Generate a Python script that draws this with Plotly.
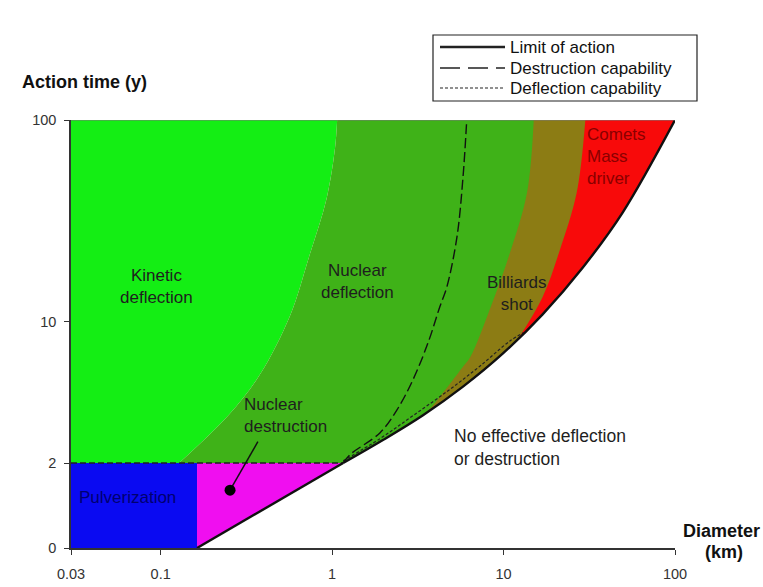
import numpy as np
import plotly.graph_objects as go

# ---------------- data (diameter in km, action time in years) ----------------
limit_x = [0.163, 1.16, 1.98, 3.39, 5.80, 9.92, 16.9, 29.0, 49.6, 100]
limit_y = [0.0, 2.0, 2.60, 3.45, 4.78, 6.98, 10.9, 18.6, 34.9, 100]

kinetic_x = [0.128, 0.25, 0.38, 0.57, 0.74, 0.93, 1.04, 1.07]
kinetic_y = [2.0, 3.47, 5.5, 10.8, 21.5, 41, 72.6, 100]

billiards_x = [3.57, 3.87, 5.8, 6.4, 8.3, 10.9, 13.7, 15.0]
billiards_y = [3.57, 3.85, 6.0, 6.7, 11.5, 22, 43.6, 100]

comets_x = [12.0, 16.9, 21.3, 26.7, 30.0]
comets_y = [8.1, 13.3, 22.7, 43.6, 100]

pulver_x = [0.03, 0.163]
pulver_y = [0.0, 2.0]

destr_x = [1.16, 1.27, 1.90, 2.39, 2.96, 3.65, 4.25, 4.67, 5.35, 5.8, 6.1]
destr_y = [2.0, 2.2, 2.82, 3.67, 5.16, 8.0, 11.9, 14.9, 26.4, 52, 100]

defl_x = [1.16, 1.90, 2.96, 4.86, 7.3, 10.9, 13.1]
defl_y = [2.05, 2.64, 3.43, 4.63, 6.05, 8.05, 8.85]

threshold_y = 2.0
x_min, x_max = 0.03, 100
y_top = 100

pointer_x = [0.369, 0.254]
pointer_y = [2.55, 1.36]

xtick_vals = [0.03, 0.1, 1, 10, 100]
xtick_text = ["0.03", "0.1", "1", "10", "100"]
ytick_vals = [0, 2, 10, 100]
ytick_text = ["0", "2", "10", "100"]

# ---------------- y scale: linear below 2 years, log above ----------------
K = 0.2104


def ty(v):
    v = np.asarray(v, dtype=float)
    return np.where(v >= 2, np.log10(np.maximum(v, 1e-9)), np.log10(2) - (2 - v) * K)


def lx(v):
    return float(np.log10(v))


limit_x_a = np.array(limit_x)
limit_y_a = np.array(limit_y)
up = limit_y_a >= threshold_y
limit_up_x = list(limit_x_a[up])
limit_up_y = list(limit_y_a[up])

fig = go.Figure()


def band(ax, ay, ashape, bx, by, bshape, color):
    fig.add_trace(go.Scatter(x=list(ax), y=list(ty(ay)), mode="lines",
                             line=dict(width=0, color=color, shape=ashape, smoothing=1),
                             hoverinfo="skip", showlegend=False))
    fig.add_trace(go.Scatter(x=list(bx), y=list(ty(by)), mode="lines", fill="tonexty",
                             fillcolor=color,
                             line=dict(width=0, color=color, shape=bshape, smoothing=1),
                             hoverinfo="skip", showlegend=False))


def poly(xs, ys, color):
    fig.add_trace(go.Scatter(x=list(xs), y=list(ty(ys)), mode="lines", fill="toself",
                             fillcolor=color, line=dict(width=0, color=color),
                             hoverinfo="skip", showlegend=False))


# kinetic deflection (bright green)
band([x_min, x_min], [threshold_y, y_top], "linear", kinetic_x, kinetic_y, "spline", "#14ee14")

# nuclear deflection (dark green)
band(kinetic_x, kinetic_y, "spline", limit_up_x, limit_up_y, "spline", "#3fb218")

# billiards shot (olive/brown)
sel = limit_x_a > billiards_x[0]
band(billiards_x, billiards_y, "spline",
     [billiards_x[0]] + list(limit_x_a[sel]), [billiards_y[0]] + list(limit_y_a[sel]), "spline",
     "#8c7c14")

# comets / mass driver (red)
sel = limit_x_a > comets_x[0]
band(comets_x, comets_y, "spline",
     [comets_x[0]] + list(limit_x_a[sel]), [comets_y[0]] + list(limit_y_a[sel]), "spline",
     "#f80a0a")

# pulverization (blue)
poly([pulver_x[0], pulver_x[1], pulver_x[1], pulver_x[0]],
     [pulver_y[0], pulver_y[0], pulver_y[1], pulver_y[1]], "#0a0af2")

# nuclear destruction (magenta)
poly([limit_x[0], limit_x[1], pulver_x[1]],
     [limit_y[0], limit_y[1], threshold_y], "#f00ef0")

# lines
fig.add_trace(go.Scatter(x=[x_min, limit_x[1]], y=list(ty([threshold_y, threshold_y])), mode="lines",
                         line=dict(color="#222", width=1.5, dash="6px,3px"), hoverinfo="skip"))
fig.add_trace(go.Scatter(x=defl_x, y=list(ty(defl_y)), mode="lines",
                         line=dict(color="#222", width=1.2, dash="3px,2px", shape="spline"),
                         hoverinfo="skip"))
fig.add_trace(go.Scatter(x=destr_x, y=list(ty(destr_y)), mode="lines",
                         line=dict(color="#111", width=1.4, dash="10px,4px", shape="spline"),
                         hoverinfo="skip"))
fig.add_trace(go.Scatter(x=limit_x[:2], y=list(ty(limit_y[:2])), mode="lines",
                         line=dict(color="#111", width=2.4), hoverinfo="skip"))
fig.add_trace(go.Scatter(x=limit_up_x, y=list(ty(limit_up_y)), mode="lines",
                         line=dict(color="#111", width=2.4, shape="spline", smoothing=1),
                         hoverinfo="skip"))
# top edge
fig.add_trace(go.Scatter(x=[x_min, x_max], y=list(ty([y_top, y_top])), mode="lines",
                         line=dict(color="#777", width=1), hoverinfo="skip"))
# pointer
fig.add_trace(go.Scatter(x=pointer_x, y=list(ty(pointer_y)), mode="lines",
                         line=dict(color="#111", width=1.5), hoverinfo="skip"))
fig.add_trace(go.Scatter(x=[pointer_x[1]], y=list(ty([pointer_y[1]])), mode="markers",
                         marker=dict(color="#000", size=11), hoverinfo="skip"))

FONT = "Liberation Sans, Arial, sans-serif"
lab = dict(family=FONT, size=17, color="#1e1e1e")

annotations = [
    dict(x=lx(0.095), y=float(ty(14.9)), text="Kinetic<br>deflection", font=lab, align="center"),
    dict(x=lx(1.40), y=float(ty(15.8)), text="Nuclear<br>deflection", font=lab, align="center"),
    dict(x=lx(0.30), y=float(ty(3.43)), text="Nuclear<br>destruction", font=lab, align="left",
         xanchor="left"),
    dict(x=lx(12.0), y=float(ty(13.9)), text="Billiards<br>shot", font=lab, align="center"),
    dict(x=lx(29.8), y=float(ty(65.6)), text="Comets<br>Mass<br>driver",
         font=dict(family=FONT, size=17, color="#8a0000"), align="left", xanchor="left"),
    dict(x=lx(0.064), y=float(ty(1.18)), text="Pulverization",
         font=dict(family=FONT, size=17, color="#000070"), align="center"),
    dict(x=lx(5.0), y=float(ty(2.40)), text="No effective deflection<br>or destruction",
         font=dict(family=FONT, size=17.5, color="#1e1e1e"), align="left", xanchor="left"),
]
for a in annotations:
    a.update(xref="x", yref="y", showarrow=False, yanchor="middle")

# pixel -> paper helpers for titles / legend box
L, R, T, B = 71, 675, 120, 548


def pxx(p):
    return (p - L) / (R - L)


def pxy(p):
    return (B - p) / (B - T)


bold = dict(family=FONT, size=18, color="#111")
annotations += [
    dict(x=pxx(20), y=pxy(82), text="<b>Action time (y)</b>", font=bold, xanchor="left"),
    dict(x=pxx(721), y=pxy(531), text="<b>Diameter</b>", font=bold, xanchor="center"),
    dict(x=pxx(724), y=pxy(552), text="<b>(km)</b>", font=bold, xanchor="center"),
]

legend_items = [("Limit of action", 47, dict(width=2.6, dash="solid")),
                ("Destruction capability", 68, dict(width=1.5, dash="20px,8px")),
                ("Deflection capability", 88, dict(width=1.2, dash="3px,2px"))]
shapes = [dict(type="rect", xref="paper", yref="paper", x0=pxx(433), x1=pxx(697),
               y0=pxy(101), y1=pxy(35), line=dict(color="#222", width=1.2), fillcolor="white")]
for text, py, ls in legend_items:
    shapes.append(dict(type="line", xref="paper", yref="paper", x0=pxx(440), x1=pxx(505),
                       y0=pxy(py), y1=pxy(py), line=dict(color="#222", **ls)))
    annotations.append(dict(x=pxx(508), y=pxy(py), text=text, xanchor="left",
                            font=dict(family=FONT, size=17, color="#111")))

for a in annotations:
    a.setdefault("xref", "paper")
    a.setdefault("yref", "paper")
    a.setdefault("showarrow", False)
    a.setdefault("yanchor", "middle")

fig.update_layout(
    width=763, height=587,
    margin=dict(l=L, r=763 - R, t=T, b=587 - B, autoexpand=False),
    paper_bgcolor="white", plot_bgcolor="white",
    showlegend=False,
    font=dict(family=FONT, size=14, color="#333"),
    annotations=annotations,
    shapes=shapes,
    xaxis=dict(type="log", range=[lx(x_min), lx(x_max)], tickvals=xtick_vals, ticktext=xtick_text,
               showgrid=False, zeroline=False, showline=True, linecolor="#333", linewidth=1.5,
               ticks="outside", ticklen=5, tickcolor="#333", ticklabelstandoff=7,
               automargin=False, tickfont=dict(size=14.5, color="#333")),
    yaxis=dict(range=[float(ty(0)), 2], tickvals=list(ty(ytick_vals)), ticktext=ytick_text,
               showgrid=False, zeroline=False, showline=True, linecolor="#333", linewidth=1.5,
               ticks="outside", ticklen=5, tickcolor="#333", ticklabelstandoff=5,
               automargin=False, tickfont=dict(size=14.5, color="#333")),
)

fig.write_html("out.html")
